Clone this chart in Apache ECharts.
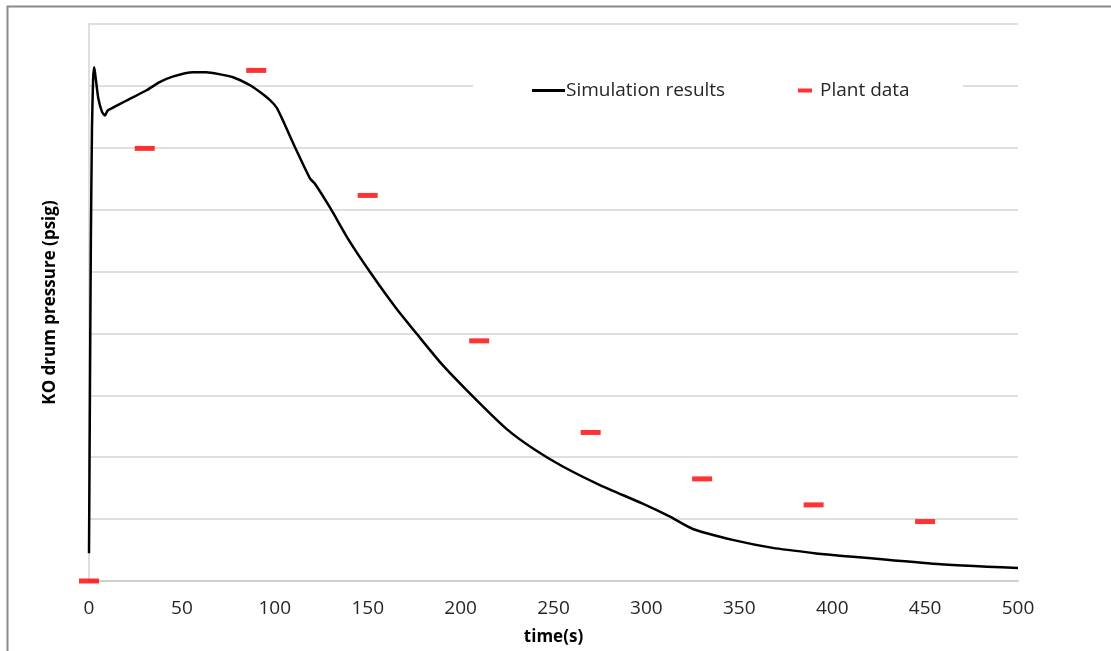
<!DOCTYPE html>
<html>
<head>
<meta charset="utf-8">
<script src="https://cdn.jsdelivr.net/npm/echarts@6/dist/echarts.min.js"></script>
<style>
  html, body { margin: 0; padding: 0; background: #fff; }
  #chart { width: 1111px; height: 651px; }
</style>
</head>
<body>
<div id="chart"></div>
<script>
// simulation curve (time in s, pressure in grid units)
const simTime = [0, 0.5, 1, 1.6, 2.2, 2.8, 3.5, 5, 7, 8.6, 10, 12.4, 20, 31, 38, 45, 56, 63, 70, 77.5, 86.7, 92, 97.4, 101, 104.4, 111, 119, 121.6, 130, 140, 152, 165, 176.5, 190, 206.7, 225, 240, 255, 275, 298, 312.7, 325, 347, 368, 393, 400, 454, 500];
const simPressure = [0.45, 3.0, 5.5, 7.3, 8.1, 8.3, 8.15, 7.8, 7.58, 7.52, 7.6, 7.64, 7.76, 7.93, 8.06, 8.15, 8.22, 8.22, 8.19, 8.14, 8.01, 7.9, 7.77, 7.65, 7.44, 7.0, 6.5, 6.42, 6.02, 5.5, 4.96, 4.42, 3.99, 3.5, 2.98, 2.45, 2.12, 1.85, 1.55, 1.25, 1.04, 0.84, 0.66, 0.535, 0.44, 0.42, 0.28, 0.21];

// plant measurements
const plantTime = [0, 30, 90, 150, 210, 270, 330, 390, 450];
const plantPressure = [0, 6.99, 8.25, 6.23, 3.88, 2.40, 1.65, 1.23, 0.96];

const xTicks = [0, 50, 100, 150, 200, 250, 300, 350, 400, 450, 500];

const font = '"Open Sans", "DejaVu Sans", sans-serif';

const chart = echarts.init(document.getElementById('chart'));
chart.setOption({
  animation: false,
  backgroundColor: '#fff',
  textStyle: { fontFamily: font },
  grid: { left: 89, right: 93, top: 24, bottom: 69 },
  graphic: [
    {
      type: 'rect', z: -1, silent: true,
      shape: { x: 7.5, y: 6.5, width: 1300, height: 800 },
      style: { fill: 'none', stroke: '#8a8a8a', lineWidth: 2 }
    },
    {
      type: 'rect', z: 3, silent: true,
      shape: { x: 473, y: 76, width: 490, height: 24 },
      style: { fill: '#fff' }
    }
  ],
  legend: [
    {
      data: ['Simulation results'],
      left: 527, top: 76,
      icon: 'rect', itemWidth: 33, itemHeight: 3, itemGap: 0,
      textStyle: { fontSize: 19, color: '#262626', fontFamily: font, padding: [0, 0, 0, -4] },
      selectedMode: false, z: 5
    },
    {
      data: ['Plant data'],
      left: 793, top: 76,
      icon: 'rect', itemWidth: 14, itemHeight: 4,
      textStyle: { fontSize: 19, color: '#262626', fontFamily: font, padding: [0, 0, 0, 3] },
      selectedMode: false, z: 5
    }
  ],
  xAxis: {
    type: 'value', min: 0, max: 500, interval: 50,
    name: 'time(s)', nameLocation: 'middle', nameGap: 48,
    nameTextStyle: { fontSize: 17, fontWeight: 'bold', color: '#000', fontFamily: font },
    axisLine: { show: true, lineStyle: { color: '#cfcfcf', width: 2 } },
    axisTick: { show: false },
    splitLine: { show: false },
    axisLabel: {
      fontSize: 19, color: '#262626', margin: 18, fontFamily: font,
      formatter: v => (xTicks.includes(v) ? String(v) : '')
    }
  },
  yAxis: {
    type: 'value', min: 0, max: 9, interval: 1,
    name: 'KO drum pressure (psig)', nameLocation: 'middle', nameGap: 30,
    nameTextStyle: { fontSize: 17, fontWeight: 'bold', color: '#000', fontFamily: font },
    axisLine: { show: true, lineStyle: { color: '#d4d4d4', width: 1.5 } },
    axisTick: { show: false },
    axisLabel: { show: false },
    splitLine: { show: true, lineStyle: { color: '#d4d4d4', width: 1.5 } }
  },
  series: [
    {
      name: 'Simulation results',
      type: 'line',
      data: simTime.map((t, i) => [t, simPressure[i]]),
      showSymbol: false,
      smooth: 0.2,
      lineStyle: { color: '#000', width: 2.5 },
      itemStyle: { color: '#000' },
      z: 2
    },
    {
      name: 'Plant data',
      type: 'scatter',
      data: plantTime.map((t, i) => [t, plantPressure[i]]),
      symbol: 'rect',
      symbolSize: [20, 5],
      itemStyle: { color: '#ff0000' },
      clip: false,
      z: 3
    }
  ]
});
</script>
</body>
</html>
